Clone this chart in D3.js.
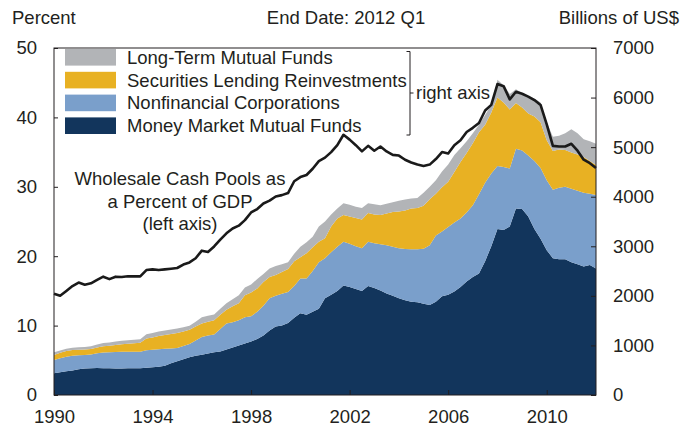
<!DOCTYPE html>
<html><head><meta charset="utf-8">
<script src="https://cdn.jsdelivr.net/npm/d3@7"></script>
<style>
body{margin:0;background:#fff}
text{font-family:"Liberation Sans",Arial,sans-serif;fill:#231f20}
</style>
</head><body>
<svg id="c" width="681" height="427"></svg>
<script>
// ---- data (quarterly, 1990Q1 .. 2012Q1) ----
const startYear = 1990, endYear = 2012; // 1990Q1 .. 2012Q1
const seriesNames = ["Money Market Mutual Funds","Nonfinancial Corporations","Securities Lending Reinvestments","Long-Term Mutual Funds"];
const seriesKeys = ["mmmf","nonfin","secLend","longTerm"];
// billions of US$ (right axis)
const mmmf = [440,460,480,495,520,535,540,545,540,540,535,535,540,540,540,550,560,570,590,640,680,720,760,790,810,835,860,880,920,960,1000,1040,1080,1130,1200,1300,1380,1400,1450,1560,1650,1620,1680,1740,1950,2020,2100,2210,2180,2140,2100,2200,2160,2110,2050,2000,1950,1910,1880,1870,1840,1815,1880,1990,2020,2090,2180,2290,2380,2450,2700,3000,3350,3330,3400,3760,3750,3600,3350,3150,2920,2760,2740,2740,2680,2640,2590,2620,2550];
const nonfin = [266,280,290,295,280,270,275,295,315,320,330,335,332,334,335,355,355,355,345,300,270,270,270,310,360,365,360,450,520,510,510,530,510,550,600,650,620,640,630,640,700,730,820,940,810,860,890,880,870,860,860,890,900,930,970,990,1010,1035,1060,1070,1110,1205,1340,1310,1370,1390,1380,1390,1450,1600,1580,1470,1270,1270,1170,1210,1180,1230,1370,1430,1410,1380,1440,1460,1480,1480,1490,1440,1485];
const secLend = [101,110,120,120,115,115,115,120,130,135,145,155,163,171,180,235,245,265,275,290,300,290,285,280,270,280,290,290,280,320,340,440,480,470,480,430,420,440,460,500,430,510,480,410,400,520,570,540,550,570,580,580,580,590,640,700,740,775,820,830,870,930,840,890,910,1020,1140,1200,1250,1250,1170,1230,1380,1300,1190,920,870,850,900,920,810,780,770,740,730,730,720,660,605];
const longTerm = [53,50,45,45,50,50,55,60,65,65,70,70,70,70,70,85,90,90,90,90,90,85,80,100,130,120,115,120,130,140,160,160,160,190,160,170,180,160,140,150,210,220,210,310,340,240,200,240,240,230,230,200,210,200,200,200,220,225,205,205,260,250,270,320,350,340,280,240,200,150,200,150,360,350,310,280,290,350,360,400,360,290,280,340,470,430,360,400,430];
// percent of GDP (left axis)
const cashPoolsPctGDP = [14.6,14.3,15.0,15.7,16.2,15.9,16.1,16.6,17.05,16.7,17.05,17.0,17.1,17.1,17.1,18.0,18.1,18.0,18.1,18.2,18.3,18.8,19.1,19.7,20.8,20.6,21.4,22.4,23.3,24.0,24.4,25.2,26.3,26.8,27.6,28.0,28.6,28.8,29.1,30.8,31.4,31.7,32.6,33.7,34.2,35.0,36.0,37.5,36.8,36.0,35.1,35.9,35.2,35.8,35.1,34.6,34.5,33.9,33.5,33.2,33.0,33.2,34.0,35.0,34.8,36.0,36.7,37.9,38.5,39.2,41.0,41.8,44.8,44.5,42.6,43.7,43.4,43.0,42.5,41.8,39.0,35.9,35.8,35.8,36.2,35.2,33.9,33.4,32.7];
const xTickValues = [1990,1994,1998,2002,2006,2010];
const leftTickValues = [0,10,20,30,40,50];
const rightTickValues = [0,1000,2000,3000,4000,5000,6000,7000];
const colors = {mmmf:"#12355c", nonfin:"#7a9fcb", secLend:"#e8b123", longTerm:"#b2b4b7"};

// quarter dates as fractional years
const dates = [];
for (let y = startYear; y <= endYear; y++) for (let q = 0; q < 4; q++) { if (y === endYear && q > 0) break; dates.push(y + q/4); }
const rows = dates.map((d,i)=>({date:d, mmmf:mmmf[i], nonfin:nonfin[i], secLend:secLend[i], longTerm:longTerm[i], pct:cashPoolsPctGDP[i]}));

// ---- layout ----
const L = 54, R = 596, T = 48, B = 395;
const svg = d3.select("#c");
const x = d3.scaleLinear().domain([1990, 2012]).range([L, R]);
const yL = d3.scaleLinear().domain([0, 50]).range([B, T]);
const yR = d3.scaleLinear().domain([0, 7000]).range([B, T]);

const stack = d3.stack().keys(seriesKeys);
const layers = stack(rows);
const area = d3.area().x(d=>x(d.data.date)).y0(d=>yR(d[0])).y1(d=>yR(d[1]));
svg.append("g").selectAll("path").data(layers).join("path")
  .attr("d", area).attr("fill", d=>colors[d.key]);

const line = d3.line().x(d=>x(d.date)).y(d=>yL(d.pct));
svg.append("path").datum(rows).attr("d", line).attr("fill","none")
  .attr("stroke","#1a1a1a").attr("stroke-width",2.6).attr("stroke-linejoin","round");

// frame
svg.append("rect").attr("x",L).attr("y",T).attr("width",R-L).attr("height",B-T)
  .attr("fill","none").attr("stroke","#231f20").attr("stroke-width",1);

// axes
const fs = "18.5px";
const gl = svg.append("g").attr("transform",`translate(${L},0)`)
  .call(d3.axisLeft(yL).tickValues(leftTickValues).tickSize(-4).tickPadding(17).tickFormat(d3.format("d")));
const gr = svg.append("g").attr("transform",`translate(${R},0)`)
  .call(d3.axisRight(yR).tickValues(rightTickValues).tickSize(-5).tickPadding(17).tickFormat(d3.format("d")));
const gb = svg.append("g").attr("transform",`translate(0,${B})`)
  .call(d3.axisBottom(x).tickValues(xTickValues).tickSize(-5).tickPadding(15).tickFormat(d3.format("d")));
[gl,gr,gb].forEach(g=>{
  g.select(".domain").remove();
  g.selectAll("line").attr("stroke","#231f20");
  g.selectAll("text").attr("font-size",fs).attr("font-family",null).style("fill","#231f20");
});

// header texts
svg.append("text").attr("x",12).attr("y",24).attr("font-size",fs).text("Percent");
svg.append("text").attr("x",346).attr("y",24).attr("font-size",fs).attr("text-anchor","middle").text("End Date: 2012 Q1");
svg.append("text").attr("x",679).attr("y",24).attr("font-size",fs).attr("text-anchor","end").text("Billions of US$");

// legend (top to bottom)
const legendOrder = [["longTerm","Long-Term Mutual Funds"],["secLend","Securities Lending Reinvestments"],["nonfin","Nonfinancial Corporations"],["mmmf","Money Market Mutual Funds"]];
legendOrder.forEach((e,i)=>{
  const cy = 57.3 + i*22.8;
  svg.append("rect").attr("x",65).attr("y",cy-8.3).attr("width",51).attr("height",16.6).attr("fill",colors[e[0]]);
  svg.append("text").attr("x",127).attr("y",cy+6.4).attr("font-size",fs).text(e[1]);
});
// bracket
svg.append("path").attr("d","M406.5,51.5H410V135H406.5M410,93H413.5").attr("fill","none").attr("stroke","#231f20").attr("stroke-width",1);
svg.append("text").attr("x",416).attr("y",99).attr("font-size",fs).text("right axis");

// annotation
const ann = ["Wholesale Cash Pools as","a Percent of GDP","(left axis)"];
ann.forEach((t,i)=>svg.append("text").attr("x",180).attr("y",185+i*22.5).attr("font-size",fs).attr("text-anchor","middle").text(t));
</script>
</body></html>
